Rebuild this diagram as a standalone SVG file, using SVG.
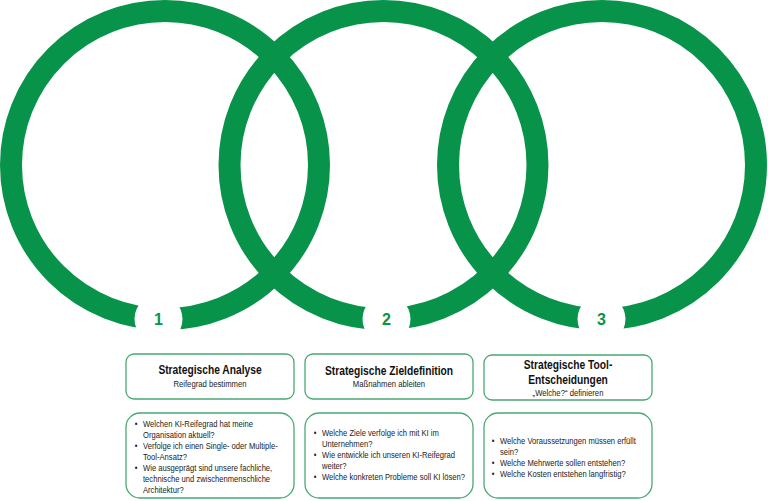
<svg xmlns="http://www.w3.org/2000/svg" width="768" height="501" viewBox="0 0 768 501">
<style>
.ring{fill:none;stroke:#07934a;stroke-width:22}
.gap{fill:#ffffff}
.num{font-family:"Liberation Sans",Arial,sans-serif;font-weight:bold;font-size:16px;fill:#07934a;text-anchor:middle}
.hbox{fill:#ffffff;stroke:#4aa874;stroke-width:1.3}
.bbox{fill:#ffffff;stroke:#4aa874;stroke-width:1.3}
.title{font-family:"Liberation Sans",Arial,sans-serif;font-weight:bold;font-size:12.5px;fill:#111;text-anchor:middle}
.sub{font-family:"Liberation Sans",Arial,sans-serif;font-size:9.4px;fill:#222;text-anchor:middle}
.bl{font-family:"Liberation Sans",Arial,sans-serif;font-size:9.3px;fill:#222}
</style>
<g id="connectors"></g>
<g id="step1">
  <circle class="ring" cx="165" cy="165" r="154"/>
  <circle class="gap" cx="158.5" cy="319" r="24"/>
  <text class="num" x="158.5" y="325">1</text>
  <rect class="hbox" x="126" y="354" width="168" height="45" rx="8"/>
  <g transform="translate(210,0) scale(0.82,1)">
    <text class="title" x="0" y="374.5">Strategische Analyse</text>
    <text class="sub" x="0" y="387.5">Reifegrad bestimmen</text>
  </g>
  <rect class="bbox" x="126" y="413" width="168" height="85" rx="14"/>
  <g transform="translate(143,0) scale(0.82,1)">
    <text class="bl" x="-10" y="427.5">•</text>
    <text class="bl" x="0" y="427.5">Welchen KI-Reifegrad hat meine</text>
    <text class="bl" x="0" y="438.5">Organisation aktuell?</text>
    <text class="bl" x="-10" y="449.5">•</text>
    <text class="bl" x="0" y="449.5">Verfolge ich einen Single- oder Multiple-</text>
    <text class="bl" x="0" y="460.5">Tool-Ansatz?</text>
    <text class="bl" x="-10" y="471.5">•</text>
    <text class="bl" x="0" y="471.5">Wie ausgeprägt sind unsere fachliche,</text>
    <text class="bl" x="0" y="482.5">technische und zwischenmenschliche</text>
    <text class="bl" x="0" y="493.5">Architektur?</text>
  </g>
</g>
<g id="step2">
  <circle class="ring" cx="383.5" cy="165" r="154"/>
  <circle class="gap" cx="386.5" cy="319" r="24"/>
  <text class="num" x="386.5" y="325">2</text>
  <rect class="hbox" x="305" y="354" width="168" height="45" rx="8"/>
  <g transform="translate(389,0) scale(0.82,1)">
    <text class="title" x="0" y="375.5">Strategische Zieldefinition</text>
    <text class="sub" x="0" y="387.5">Maßnahmen ableiten</text>
  </g>
  <rect class="bbox" x="305" y="413" width="168" height="85" rx="14"/>
  <g transform="translate(322,0) scale(0.82,1)">
    <text class="bl" x="-10" y="436.5">•</text>
    <text class="bl" x="0" y="436.5">Welche Ziele verfolge ich mit KI im</text>
    <text class="bl" x="0" y="447.5">Unternehmen?</text>
    <text class="bl" x="-10" y="458.5">•</text>
    <text class="bl" x="0" y="458.5">Wie entwickle ich unseren KI-Reifegrad</text>
    <text class="bl" x="0" y="469.5">weiter?</text>
    <text class="bl" x="-10" y="480.5">•</text>
    <text class="bl" x="0" y="480.5">Welche konkreten Probleme soll KI lösen?</text>
  </g>
</g>
<g id="step3">
  <circle class="ring" cx="602" cy="165" r="154"/>
  <circle class="gap" cx="601.5" cy="319" r="24"/>
  <text class="num" x="601.5" y="325">3</text>
  <rect class="hbox" x="484" y="355" width="168" height="45" rx="8"/>
  <g transform="translate(568,0) scale(0.82,1)">
    <text class="title" x="0" y="369.5">Strategische Tool-</text>
    <text class="title" x="0" y="384">Entscheidungen</text>
    <text class="sub" x="0" y="396.5">„Welche?“ definieren</text>
  </g>
  <rect class="bbox" x="484" y="413" width="168" height="85" rx="14"/>
  <g transform="translate(500,0) scale(0.82,1)">
    <text class="bl" x="-10" y="444">•</text>
    <text class="bl" x="0" y="444">Welche Voraussetzungen müssen erfüllt</text>
    <text class="bl" x="0" y="455">sein?</text>
    <text class="bl" x="-10" y="466">•</text>
    <text class="bl" x="0" y="466">Welche Mehrwerte sollen entstehen?</text>
    <text class="bl" x="-10" y="477">•</text>
    <text class="bl" x="0" y="477">Welche Kosten entstehen langfristig?</text>
  </g>
</g>
</svg>
